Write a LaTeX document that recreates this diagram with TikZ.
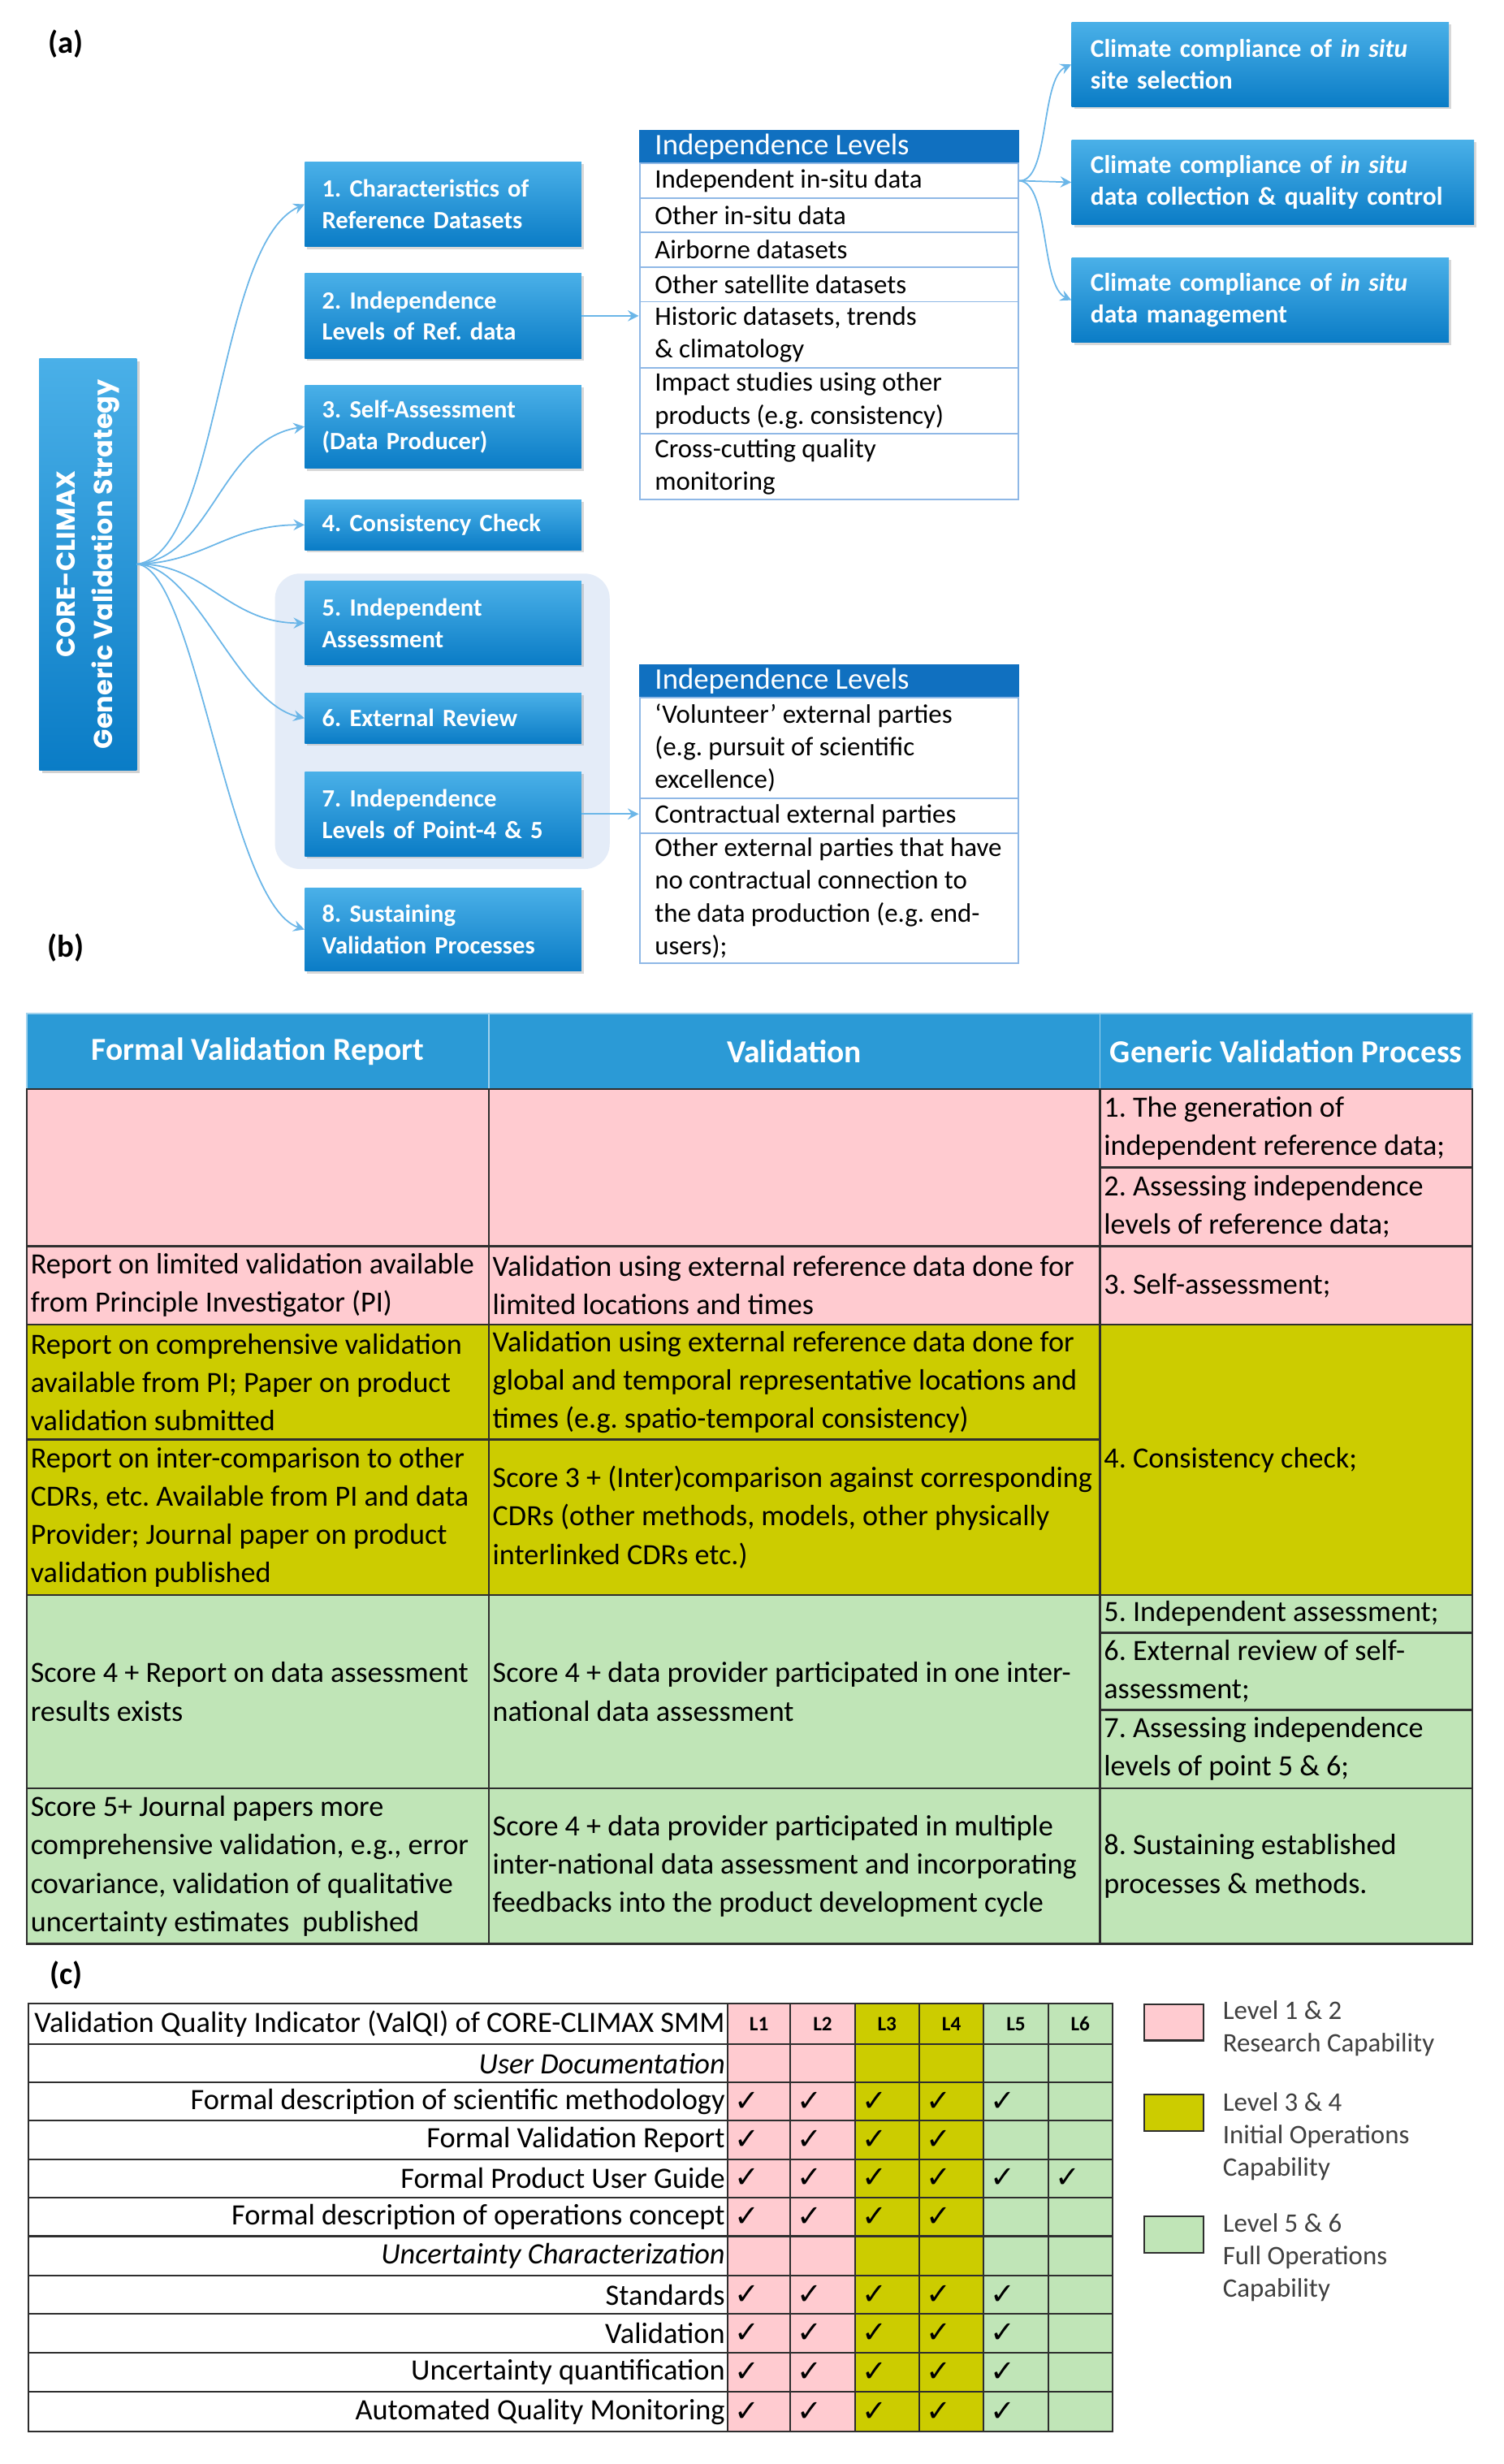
\documentclass[tikz,border=0pt]{standalone}
\usepackage{fontspec}
\setmainfont{Carlito}
\newfontfamily\gothicfont{Poppins}
\newfontfamily\chkfont{DejaVu Sans}
\usetikzlibrary{arrows.meta,shadows}
\definecolor{boxtop}{HTML}{4AB0E8}
\definecolor{boxbot}{HTML}{0A7CC6}
\definecolor{connc}{HTML}{6BB6E8}
\definecolor{iheadc}{HTML}{1070C0}
\definecolor{ilinec}{HTML}{8FB8E6}
\definecolor{hdrblue}{HTML}{2B9AD6}
\definecolor{pinkc}{HTML}{FFCBD0}
\definecolor{olivec}{HTML}{CCCC00}
\definecolor{greenc}{HTML}{C0E5B7}
\definecolor{gridc}{HTML}{2E2E2E}
\definecolor{grpbg}{HTML}{E4ECF8}
\definecolor{legtext}{HTML}{404040}

\newcommand\tcell[6]{%
  \pgfmathsetmacro\tcW{#4-#2}\pgfmathsetmacro\tcH{#5-#3}%
  \pgfmathsetmacro\tcX{(#2+#4)/2}\pgfmathsetmacro\tcY{(#3+#5)/2}%
  \node[#6, rectangle, minimum width=\tcW pt, minimum height=\tcH pt, inner sep=0pt] (#1) at (\tcX,\tcY) {};}

\tikzset{
  bluebox/.style={rectangle, top color=boxtop, bottom color=boxbot, draw=none, text=white,
     font=\bfseries\fontsize{15.8}{20}\selectfont, align=left, inner xsep=11pt, inner ysep=0pt,
     drop shadow={opacity=0.3, shadow xshift=1.5pt, shadow yshift=-1.5pt}},
  kbox/.style={bluebox, font=\bfseries\fontsize{16.3}{20}\selectfont, inner xsep=12pt},
  conn/.style={draw=connc, line width=0.9pt, -{Stealth[length=7pt,width=7pt,inset=2.5pt]}},
  plabel/.style={font=\bfseries\fontsize{20}{24}\selectfont, inner sep=0pt},
  ihead/.style={fill=iheadc, draw=iheadc, line width=0.8pt},
  irow/.style={fill=white, draw=ilinec, line width=1pt},
  ihtext/.style={anchor=west, text=white, font=\fontsize{19}{20}\selectfont, inner sep=0pt},
  itext/.style={anchor=west, align=left, font=\fontsize{17}{20.8}\selectfont, inner sep=0pt},
  bhead/.style={fill=hdrblue, draw=white!55!hdrblue, line width=0.8pt},
  bhtext/.style={text=white, font=\bfseries\fontsize{20.4}{22}\selectfont, inner sep=0pt},
  bcell/.style={draw=gridc, line width=1.3pt},
  btext/.style={anchor=west, align=left, font=\fontsize{18.7}{24.4}\selectfont, inner sep=0pt},
  gcell/.style={draw=gridc, line width=1.1pt},
  ctext/.style={anchor=east, font=\fontsize{18.8}{20}\selectfont, inner sep=0pt},
  lhtext/.style={font=\bfseries\fontsize{13}{14}\selectfont, inner sep=0pt},
  chk/.style={font=\chkfont\fontsize{19}{20}\selectfont, inner sep=0pt},
  legsq/.style={draw=gridc, line width=1.1pt, rectangle, minimum width=38pt, inner sep=0pt},
  legtxt/.style={anchor=west, align=left, text=legtext, font=\fontsize{17}{20.5}\selectfont, inner sep=0pt}
}

\begin{document}
\frenchspacing
\begin{tikzpicture}[x=1pt,y=-1pt]
\useasboundingbox (0,0) rectangle (957,1568);
\fill[white] (0,0) rectangle (957,1568);

% ---------------- (a) ----------------
\node[plabel] (la) at (42,28) {(a)};

\node[fill=grpbg, rounded corners=16pt, minimum width=213pt, minimum height=188pt, inner sep=0pt] (grp) at (281.5,459) {};

\node[rectangle, top color=boxtop, bottom color=boxbot, rotate=90, minimum width=262pt, minimum height=62pt,
      text=white, align=center, font=\gothicfont\bfseries\fontsize{16.5}{24}\selectfont, inner sep=0pt,
      drop shadow={opacity=0.35, shadow xshift=2pt, shadow yshift=-2pt}] (main) at (56,359)
      {CORE-CLIMAX\\Generic Validation Strategy};

\node[bluebox, minimum width=176pt, minimum height=54pt, text width=154pt] (b1) at (282,130) {1. Characteristics of\\Reference Datasets};
\node[bluebox, minimum width=176pt, minimum height=54pt, text width=154pt] (b2) at (282,201) {2. Independence\\Levels of Ref. data};
\node[bluebox, minimum width=176pt, minimum height=53pt, text width=154pt] (b3) at (282,271.5) {3. Self-Assessment\\(Data Producer)};
\node[bluebox, minimum width=176pt, minimum height=32pt, text width=154pt] (b4) at (282,334) {4. Consistency Check};
\node[bluebox, minimum width=176pt, minimum height=53pt, text width=154pt] (b5) at (282,396.5) {5. Independent\\Assessment};
\node[bluebox, minimum width=176pt, minimum height=32pt, text width=154pt] (b6) at (282,457) {6. External Review};
\node[bluebox, minimum width=176pt, minimum height=54pt, text width=154pt] (b7) at (282,518) {7. Independence\\Levels of Point-4 \& 5};
\node[bluebox, minimum width=176pt, minimum height=53pt, text width=154pt] (b8) at (282,591.5) {8. Sustaining\\Validation Processes};

\node[kbox, minimum width=240pt, minimum height=54pt, text width=216pt] (k1) at (802,41) {Climate compliance of \textit{in situ}\\site selection};
\node[kbox, minimum width=256pt, minimum height=54pt, text width=232pt] (k2) at (810,116) {Climate compliance of \textit{in situ}\\data collection \& quality control};
\node[kbox, minimum width=240pt, minimum height=54pt, text width=216pt] (k3) at (802,191) {Climate compliance of \textit{in situ}\\data management};

% Independence table 1
\tcell{ih1}{407}{83}{648}{104}{ihead}
\tcell{r11}{407}{104}{648}{126}{irow}
\tcell{r12}{407}{126}{648}{148}{irow}
\tcell{r13}{407}{148}{648}{170}{irow}
\tcell{r14}{407}{170}{648}{192}{irow}
\tcell{r15}{407}{192}{648}{234}{irow}
\tcell{r16}{407}{234}{648}{276}{irow}
\tcell{r17}{407}{276}{648}{318}{irow}
\node[ihtext] (ih1t) at ([xshift=10pt]ih1.west) {Independence Levels};
\node[itext] (r11t) at ([xshift=10pt]r11.west) {Independent in-situ data};
\node[itext] (r12t) at ([xshift=10pt]r12.west) {Other in-situ data};
\node[itext] (r13t) at ([xshift=10pt]r13.west) {Airborne datasets};
\node[itext] (r14t) at ([xshift=10pt]r14.west) {Other satellite datasets};
\node[itext] (r15t) at ([xshift=10pt]r15.west) {Historic datasets, trends\\\& climatology};
\node[itext] (r16t) at ([xshift=10pt]r16.west) {Impact studies using other\\products (e.g. consistency)};
\node[itext] (r17t) at ([xshift=10pt]r17.west) {Cross-cutting quality\\monitoring};

% Independence table 2
\tcell{ih2}{407}{423}{648}{444}{ihead}
\tcell{r21}{407}{444}{648}{508}{irow}
\tcell{r22}{407}{508}{648}{530}{irow}
\tcell{r23}{407}{530}{648}{613}{irow}
\node[ihtext] (ih2t) at ([xshift=10pt]ih2.west) {Independence Levels};
\node[itext] (r21t) at ([xshift=10pt]r21.west) {‘Volunteer’ external parties\\(e.g. pursuit of scientific\\excellence)};
\node[itext] (r22t) at ([xshift=10pt]r22.west) {Contractual external parties};
\node[itext] (r23t) at ([xshift=10pt]r23.west) {Other external parties that have\\no contractual connection to\\the data production (e.g. end-\\users);};

% connectors
\draw[conn] (main.south) .. controls (140,352) and (138,155) .. (b1.west);
\draw[conn] (main.south) .. controls (135,355) and (140,280) .. (b3.west);
\draw[conn] (main.south) .. controls (130,358) and (145,334) .. (b4.west);
\draw[conn] (main.south) .. controls (130,358) and (145,396.5) .. (b5.west);
\draw[conn] (main.south) .. controls (125,360) and (150,447) .. (b6.west);
\draw[conn] (main.south) .. controls (125,362) and (145,575) .. (b8.west);
\draw[conn] (b2.east) -- (b2.east -| r15.west);
\draw[conn] (b7.east) -- (b7.east -| r22.west);
\draw[conn] (r11.east) .. controls (668,116) and (662,50) .. (k1.west);
\draw[conn] (r11.east) -- (k2.west);
\draw[conn] (r11.east) .. controls (668,116) and (662,182) .. (k3.west);

% ---------------- (b) ----------------
\node[plabel] (lb) at (42,603) {(b)};

\tcell{hA}{17}{645}{311}{693}{bhead}
\tcell{hB}{311}{645}{700}{693}{bhead}
\tcell{hC}{700}{645}{937}{693}{bhead}
\node[bhtext] (hAt) at (hA.center) {Formal Validation Report};
\node[bhtext] (hBt) at (hB.center) {Validation};
\node[bhtext] (hCt) at (hC.center) {Generic Validation Process};

\tcell{A1}{17}{693}{311}{793}{bcell, fill=pinkc}
\tcell{B1}{311}{693}{700}{793}{bcell, fill=pinkc}
\tcell{C1a}{700}{693}{937}{743}{bcell, fill=pinkc}
\tcell{C1b}{700}{743}{937}{793}{bcell, fill=pinkc}
\tcell{A2}{17}{793}{311}{843}{bcell, fill=pinkc}
\tcell{B2}{311}{793}{700}{843}{bcell, fill=pinkc}
\tcell{C2}{700}{793}{937}{843}{bcell, fill=pinkc}
\tcell{A3}{17}{843}{311}{916}{bcell, fill=olivec}
\tcell{B3}{311}{843}{700}{916}{bcell, fill=olivec}
\tcell{A4}{17}{916}{311}{1015}{bcell, fill=olivec}
\tcell{B4}{311}{916}{700}{1015}{bcell, fill=olivec}
\tcell{C34}{700}{843}{937}{1015}{bcell, fill=olivec}
\tcell{A5}{17}{1015}{311}{1138}{bcell, fill=greenc}
\tcell{B5}{311}{1015}{700}{1138}{bcell, fill=greenc}
\tcell{C5a}{700}{1015}{937}{1039}{bcell, fill=greenc}
\tcell{C5b}{700}{1039}{937}{1088}{bcell, fill=greenc}
\tcell{C5c}{700}{1088}{937}{1138}{bcell, fill=greenc}
\tcell{A6}{17}{1138}{311}{1237}{bcell, fill=greenc}
\tcell{B6}{311}{1138}{700}{1237}{bcell, fill=greenc}
\tcell{C6}{700}{1138}{937}{1237}{bcell, fill=greenc}

\node[btext] (C1at) at ([xshift=3pt]C1a.west) {1. The generation of\\independent reference data;};
\node[btext] (C1bt) at ([xshift=3pt]C1b.west) {2. Assessing independence\\levels of reference data;};
\node[btext] (A2t) at ([xshift=3pt]A2.west) {Report on limited validation available\\from Principle Investigator (PI)};
\node[btext] (B2t) at ([xshift=3pt]B2.west) {Validation using external reference data done for\\limited locations and times};
\node[btext] (C2t) at ([xshift=3pt]C2.west) {3. Self-assessment;};
\node[btext] (A3t) at ([xshift=3pt]A3.west) {Report on comprehensive validation\\available from PI; Paper on product\\validation submitted};
\node[btext] (B3t) at ([xshift=3pt]B3.west) {Validation using external reference data done for\\global and temporal representative locations and\\times (e.g. spatio-temporal consistency)};
\node[btext] (A4t) at ([xshift=3pt]A4.west) {Report on inter-comparison to other\\CDRs, etc. Available from PI and data\\Provider; Journal paper on product\\validation published};
\node[btext] (B4t) at ([xshift=3pt]B4.west) {Score 3 + (Inter)comparison against corresponding\\CDRs (other methods, models, other physically\\interlinked CDRs etc.)};
\node[btext] (C34t) at ([xshift=3pt]C34.west) {4. Consistency check;};
\node[btext] (A5t) at ([xshift=3pt]A5.west) {Score 4 + Report on data assessment\\results exists};
\node[btext] (B5t) at ([xshift=3pt]B5.west) {Score 4 + data provider participated in one inter-\\national data assessment};
\node[btext] (C5at) at ([xshift=3pt]C5a.west) {5. Independent assessment;};
\node[btext] (C5bt) at ([xshift=3pt]C5b.west) {6. External review of self-\\assessment;};
\node[btext] (C5ct) at ([xshift=3pt]C5c.west) {7. Assessing independence\\levels of point 5 \& 6;};
\node[btext] (A6t) at ([xshift=3pt]A6.west) {Score 5+ Journal papers more\\comprehensive validation, e.g., error\\covariance, validation of qualitative\\uncertainty estimates~~published};
\node[btext] (B6t) at ([xshift=3pt]B6.west) {Score 4 + data provider participated in multiple\\inter-national data assessment and incorporating\\feedbacks into the product development cycle};
\node[btext] (C6t) at ([xshift=3pt]C6.west) {8. Sustaining established\\processes \& methods.};

% ---------------- (c) ----------------
\node[plabel] (lc) at (42,1257) {(c)};

\foreach \r/\ya/\yb in {0/1275/1301, 1/1301/1325, 2/1325/1349.5, 3/1349.5/1374, 4/1374/1398.5, 5/1398.5/1423, 6/1423/1448, 7/1448/1472.5, 8/1472.5/1497, 9/1497/1522, 10/1522/1547.5} {
  \tcell{lab\r}{18}{\ya}{463}{\yb}{gcell, fill=white}
  \foreach \c/\xa/\xb/\cc in {1/463/503/pinkc, 2/503/544/pinkc, 3/544/585/olivec, 4/585/626/olivec, 5/626/667/greenc, 6/667/708/greenc} {
    \tcell{L\r-\c}{\xa}{\ya}{\xb}{\yb}{gcell, fill=\cc}
  }
}
\foreach \c in {1,...,6} { \node[lhtext] (Lh\c) at (L0-\c.center) {L\c}; }

\node[ctext] (lab0t) at ([xshift=-2pt]lab0.east) {Validation Quality Indicator (ValQI) of CORE-CLIMAX SMM};
\node[ctext] (lab1t) at ([xshift=-2pt]lab1.east) {\itshape User Documentation};
\node[ctext] (lab2t) at ([xshift=-2pt]lab2.east) {Formal description of scientific methodology};
\node[ctext] (lab3t) at ([xshift=-2pt]lab3.east) {Formal Validation Report};
\node[ctext] (lab4t) at ([xshift=-2pt]lab4.east) {Formal Product User Guide};
\node[ctext] (lab5t) at ([xshift=-2pt]lab5.east) {Formal description of operations concept};
\node[ctext] (lab6t) at ([xshift=-2pt]lab6.east) {\itshape Uncertainty Characterization};
\node[ctext] (lab7t) at ([xshift=-2pt]lab7.east) {Standards};
\node[ctext] (lab8t) at ([xshift=-2pt]lab8.east) {Validation};
\node[ctext] (lab9t) at ([xshift=-2pt]lab9.east) {Uncertainty quantification};
\node[ctext] (lab10t) at ([xshift=-2pt]lab10.east) {Automated Quality Monitoring};

\foreach \r/\n in {2/5, 3/4, 4/6, 5/4, 7/5, 8/5, 9/5, 10/5} {
  \foreach \c in {1,...,\n} { \node[chk] (ck\r-\c) at ([xshift=13pt]L\r-\c.west) {✓}; }
}

% legend
\node[legsq, fill=pinkc, minimum height=23pt] (lg1) at (747,1287) {};
\node[legsq, fill=olivec, minimum height=23pt] (lg2) at (747,1344.5) {};
\node[legsq, fill=greenc, minimum height=23pt] (lg3) at (747,1422) {};
\node[legtxt] (lg1t) at (778,1291) {Level 1 \& 2\\Research Capability};
\node[legtxt] (lg2t) at (778,1359.5) {Level 3 \& 4\\Initial Operations\\Capability};
\node[legtxt] (lg3t) at (778,1436.5) {Level 5 \& 6\\Full Operations\\Capability};
\end{tikzpicture}
\end{document}
